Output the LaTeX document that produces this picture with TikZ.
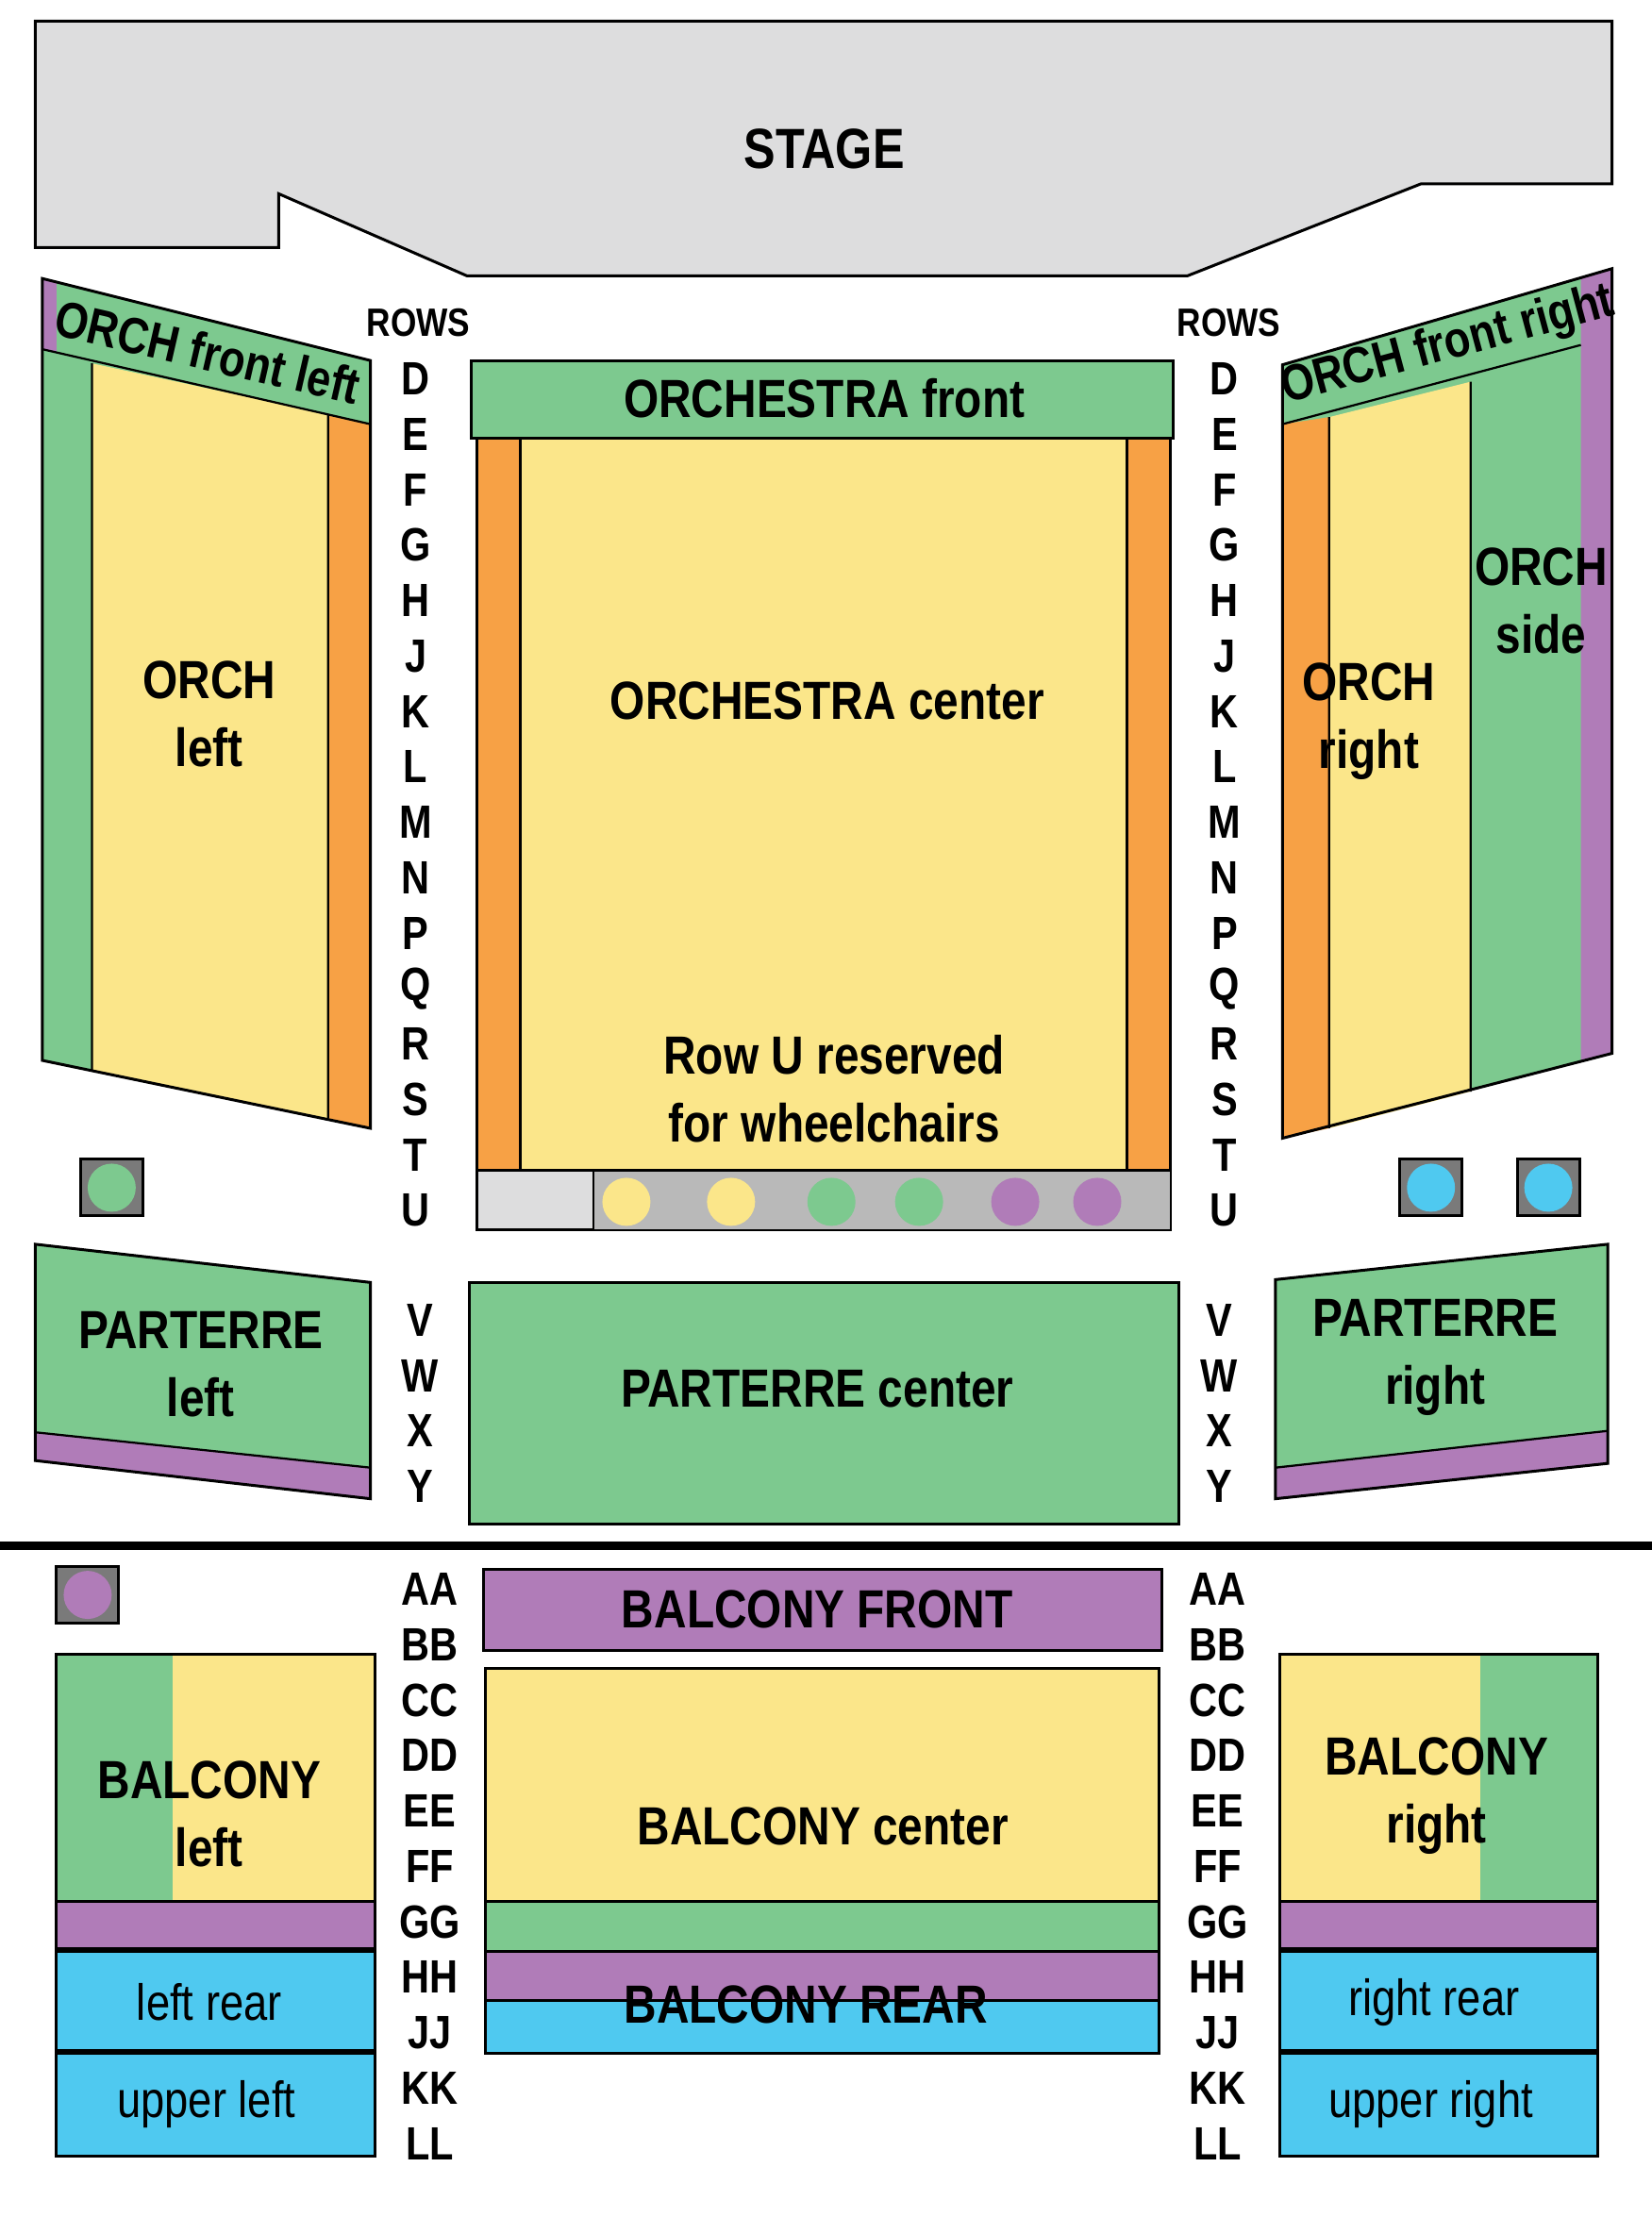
\documentclass[tikz,border=0pt]{standalone}
\usepackage{fontspec}
\setmainfont{Liberation Sans}[FakeStretch=0.84]
\usetikzlibrary{positioning}
\definecolor{seatgreen}{HTML}{7DC98F}
\definecolor{seatyellow}{HTML}{FBE68A}
\definecolor{seatorange}{HTML}{F7A145}
\definecolor{seatpurple}{HTML}{B07CB8}
\definecolor{seatblue}{HTML}{4FC9F0}
\definecolor{stagegray}{HTML}{DDDDDE}
\definecolor{boxgray}{HTML}{7A7A7A}

\begin{document}
\begin{tikzpicture}[
        x=1pt, y=-1pt,
        block/.style={draw=black, line width=2pt},
        section/.style={font=\fontsize{38}{48}\selectfont\bfseries, align=center},
        rearlabel/.style={font=\fontsize{36}{40}\selectfont, align=center},
        row/.style={font=\fontsize{33}{36}\selectfont\bfseries},
        seat/.style={circle, minimum size=34pt, inner sep=0pt},
        legend/.style={draw=black, line width=2pt, fill=boxgray, minimum width=44pt, minimum height=40pt}
    ]
    \useasboundingbox (0,0) rectangle (1168,1568);
    \fill[white] (0,0) rectangle (1168,1568);

    % stage
    \draw[block, fill=stagegray] (25,15) -- (1140,15) -- (1140,130) -- (1005,130) -- (840,195)
        -- (330,195) -- (197,137) -- (197,175) -- (25,175) -- cycle;
    \node[section, font=\fontsize{40}{44}\selectfont\bfseries] (stage) at (583,105) {STAGE};

    % orchestra left
    \fill[seatgreen] (30,197) -- (262,255) -- (262,300) -- (30,247) -- cycle;
    \fill[seatpurple] (30,197) -- (40,199) -- (40,249) -- (30,247) -- cycle;
    \fill[seatgreen] (30,247) -- (262,300) -- (262,798) -- (30,750) -- cycle;
    \fill[seatyellow] (65,257) -- (232,293) -- (232,791) -- (65,757) -- cycle;
    \fill[seatorange] (232,293) -- (262,300) -- (262,798) -- (232,791) -- cycle;
    \draw[block] (30,197) -- (262,255) -- (262,798) -- (30,750) -- cycle;
    \draw[line width=1.5pt] (30,247) -- (262,300) (65,257) -- (65,757) (232,293) -- (232,791);
    \node[section, rotate=-13, font=\fontsize{36}{40}\selectfont\bfseries] (frontLeft) at (147,249) {ORCH front left};
    \node[section] (orchLeft) at (148,505) {ORCH\\left};

    % orchestra center
    \fill[seatgreen] (333,255) rectangle (830,310);
    \fill[seatyellow] (337,310) rectangle (828,828);
    \fill[seatorange] (337,310) rectangle (368,828);
    \fill[seatorange] (797,310) rectangle (828,828);
    \draw[block] (333,255) rectangle (830,310);
    \draw[block] (337,310) rectangle (828,828);
    \draw[line width=1.5pt] (368,310) -- (368,828) (797,310) -- (797,828);
    \node[section] (orchFront) at (583,282) {ORCHESTRA front};
    \node[section] (orchCenter) at (585,496) {ORCHESTRA center};
    \node[section] (rowU) at (590,770) {Row U reserved\\for wheelchairs};
    \draw[block, fill=stagegray] (337,828) rectangle (420,870);
    \draw[line width=1pt, fill=gray!55] (420,828) rectangle (828,870);
    \foreach \sx/\sc in {443/seatyellow, 517/seatyellow, 588/seatgreen, 650/seatgreen, 718/seatpurple, 776/seatpurple}
        \node[seat, fill=\sc] (seat\sx) at (\sx,850) {};

    % orchestra right
    \fill[seatgreen] (907,258) -- (1140,190) -- (1140,745) -- (907,805) -- cycle;
    \fill[seatpurple] (1118,197) -- (1140,190) -- (1140,745) -- (1118,750) -- cycle;
    \fill[seatorange] (907,300) -- (940,295) -- (940,798) -- (907,805) -- cycle;
    \fill[seatyellow] (940,295) -- (1040,270) -- (1040,772) -- (940,798) -- cycle;
    \draw[block] (907,258) -- (1140,190) -- (1140,745) -- (907,805) -- cycle;
    \draw[line width=1.5pt] (907,300) -- (1118,244) (940,295) -- (940,798) (1040,270) -- (1040,772);
    \node[section, rotate=15, font=\fontsize{36}{40}\selectfont\bfseries] (frontRight) at (1024,245) {ORCH front right};
    \node[section] (orchSide) at (1090,425) {ORCH\\side};
    \node[section] (orchRight) at (968,510) {ORCH\\right};

    % legend squares
    \node[legend] (keyLeft) at (79,840) {};
    \node[seat, fill=seatgreen] at (keyLeft) {};
    \node[legend] (keyRightA) at (1012,840) {};
    \node[seat, fill=seatblue] at (keyRightA) {};
    \node[legend] (keyRightB) at (1095,840) {};
    \node[seat, fill=seatblue] at (keyRightB) {};

    % parterre
    \fill[seatgreen] (25,880) -- (262,907) -- (262,1060) -- (25,1033) -- cycle;
    \fill[seatpurple] (25,1013) -- (262,1038) -- (262,1060) -- (25,1033) -- cycle;
    \draw[block] (25,880) -- (262,907) -- (262,1060) -- (25,1033) -- cycle;
    \draw[line width=1.5pt] (25,1013) -- (262,1038);
    \node[section] (parterreLeft) at (142,965) {PARTERRE\\left};
    \draw[block, fill=seatgreen] (332,907) rectangle (834,1078);
    \node[section] (parterreCenter) at (578,982) {PARTERRE center};
    \fill[seatgreen] (902,905) -- (1137,880) -- (1137,1035) -- (902,1060) -- cycle;
    \fill[seatpurple] (902,1038) -- (1137,1012) -- (1137,1035) -- (902,1060) -- cycle;
    \draw[block] (902,905) -- (1137,880) -- (1137,1035) -- (902,1060) -- cycle;
    \draw[line width=1.5pt] (902,1038) -- (1137,1012);
    \node[section] (parterreRight) at (1015,960) {PARTERRE\\right};

    % row letters
    \node[row, font=\fontsize{28}{30}\selectfont\bfseries] (rowsLeft) at (296,228) {ROWS};
    \node[row, font=\fontsize{28}{30}\selectfont\bfseries] (rowsRight) at (869,228) {ROWS};
    \foreach \r [count=\i from 0] in {D,E,F,G,H,J,K,L,M,N,P,Q,R,S,T,U} {
        \node[row] (rowL\r) at (294,268+39.2*\i) {\r};
        \node[row] (rowR\r) at (866,268+39.2*\i) {\r};
    }
    \foreach \r [count=\i from 0] in {V,W,X,Y} {
        \node[row] (rowL\r) at (297,934+39*\i) {\r};
        \node[row] (rowR\r) at (862,934+39*\i) {\r};
    }

    % divider
    \draw[line width=6pt] (0,1093) -- (1168,1093);

    % balcony
    \node[legend] (keyBalcony) at (62,1128) {};
    \node[seat, fill=seatpurple] at (keyBalcony) {};
    \foreach \r [count=\i from 0] in {AA,BB,CC,DD,EE,FF,GG,HH,JJ,KK,LL} {
        \node[row] (rowL\r) at (304,1124+39.2*\i) {\r};
        \node[row] (rowR\r) at (861,1124+39.2*\i) {\r};
    }
    \draw[block, fill=seatpurple] (342,1110) rectangle (822,1167);
    \node[section] (balconyFront) at (578,1138) {BALCONY FRONT};
    \draw[block, fill=seatyellow] (343,1180) rectangle (820,1345);
    \draw[block, fill=seatgreen] (343,1345) rectangle (820,1380);
    \draw[block, fill=seatpurple] (343,1380) rectangle (820,1415);
    \draw[block, fill=seatblue] (343,1415) rectangle (820,1452);
    \node[section] (balconyCenter) at (582,1292) {BALCONY center};
    \node[section] (balconyRear) at (570,1418) {BALCONY REAR};

    \fill[seatgreen] (40,1170) rectangle (122,1345);
    \fill[seatyellow] (122,1170) rectangle (265,1345);
    \draw[block] (40,1170) rectangle (265,1345);
    \draw[block, fill=seatpurple] (40,1345) rectangle (265,1378);
    \draw[block, fill=seatblue] (40,1380) rectangle (265,1450);
    \draw[block, fill=seatblue] (40,1452) rectangle (265,1525);
    \node[section] (balconyLeft) at (148,1283) {BALCONY\\left};
    \node[rearlabel] (leftRear) at (148,1416) {left rear};
    \node[rearlabel] (upperLeft) at (146,1488) {upper left};

    \fill[seatyellow] (905,1170) rectangle (1047,1345);
    \fill[seatgreen] (1047,1170) rectangle (1130,1345);
    \draw[block] (905,1170) rectangle (1130,1345);
    \draw[block, fill=seatpurple] (905,1345) rectangle (1130,1378);
    \draw[block, fill=seatblue] (905,1380) rectangle (1130,1450);
    \draw[block, fill=seatblue] (905,1452) rectangle (1130,1525);
    \node[section] (balconyRight) at (1016,1270) {BALCONY\\right};
    \node[rearlabel] (rightRear) at (1014,1416) {right rear};
    \node[rearlabel] (upperRight) at (1012,1488) {upper right};
\end{tikzpicture}
\end{document}
